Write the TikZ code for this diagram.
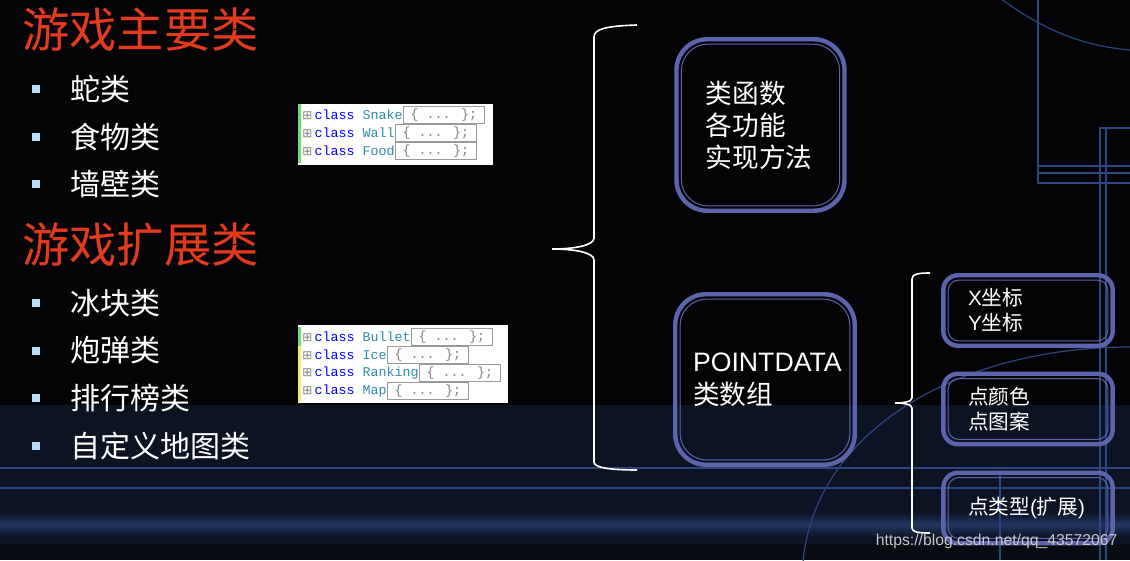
\documentclass[tikz,border=0pt]{standalone}
\usepackage{fontspec}
\setmainfont{Noto Sans CJK SC}
\newfontfamily\latinf{Liberation Sans}
\newfontfamily\codef{Liberation Mono}
\newfontfamily\symf{DejaVu Sans}
\usetikzlibrary{positioning,calc}
\definecolor{slidebg}{RGB}{4,4,7}
\definecolor{bandbg}{RGB}{12,19,34}
\definecolor{glowblue}{RGB}{32,54,98}
\definecolor{darkstrip}{RGB}{8,11,18}
\definecolor{lineblue}{RGB}{44,70,130}
\definecolor{frameblue}{RGB}{92,100,172}
\definecolor{headred}{RGB}{228,58,30}
\definecolor{dotblue}{RGB}{184,220,248}
\definecolor{kwblue}{RGB}{0,0,255}
\definecolor{typeteal}{RGB}{43,140,170}
\definecolor{foldgray}{RGB}{128,128,128}
\definecolor{barGreen}{RGB}{110,220,110}
\definecolor{barYellow}{RGB}{250,235,110}
\definecolor{markgray}{RGB}{200,200,200}
\tikzset{
  head/.style    ={text=headred, font=\fontsize{35.5}{40}\selectfont, anchor=west, inner sep=0pt},
  dot/.style     ={fill=dotblue, minimum size=6pt, inner sep=0pt},
  item/.style    ={text=white, font=\fontsize{22.5}{26}\selectfont, inner sep=0pt},
  deco/.style    ={draw=lineblue, line width=0.9pt},
  brace/.style   ={draw=white, line width=1.2pt},
  frame/.style   ={draw=frameblue, line width=3.3pt, text=white, align=left, inner ysep=0pt,
                   path picture={\draw[frameblue, line width=0.75pt, rounded corners=#1]
                     ($(path picture bounding box.south west)+(3.6pt,3.6pt)$) rectangle
                     ($(path picture bounding box.north east)+(-3.6pt,-3.6pt)$);}},
  bigbox/.style  ={frame=20pt, rounded corners=23pt, font=\fontsize{20}{24}\selectfont},
  smallbox/.style={frame=8pt, rounded corners=11pt, font=\fontsize{15.5}{18.75}\selectfont,
                   text width=90pt, inner xsep=18.5pt, minimum height=52.9pt},
  codetxt/.style ={anchor=west, inner sep=0pt, font=\codef\fontsize{10}{10}\selectfont},
  foldbox/.style ={draw=foldgray!80, line width=0.6pt, text=foldgray, inner sep=0pt,
                   font=\codef\fontsize{10}{10}\selectfont, minimum width=61pt, minimum height=13pt},
}
% one collapsed class line of the code view
\newcommand{\coderow}[3]{%
  \node[codetxt] (#1) at #2 {{\symf\fontsize{9}{9}\selectfont\textcolor{foldgray}{⊞}}\,\textcolor{kwblue}{class} \textcolor{typeteal}{#3}};
  \node[foldbox,right=0pt of #1] (#1fold) {\{ ... \};};}

\begin{document}
\begin{tikzpicture}[x=0.75pt,y=-0.75pt,node distance=29.25pt and 22.5pt]
\useasboundingbox (0,0) rectangle (1130,560);
% slide background
\fill[slidebg] (0,0) rectangle (1130,560);
\fill[bandbg] (0,405) rectangle (1130,560);
\shade[top color=bandbg, bottom color=bandbg, middle color=glowblue] (0,512) rectangle (1130,537);
\fill[darkstrip] (0,544) rectangle (1130,560);
\draw[deco, line width=1.4pt] (0,468) -- (1130,468);
\draw[deco, line width=1.4pt] (0,488) -- (1130,488);
\draw[deco] (1038,0) -- (1038,183) -- (1130,183);
\draw[deco] (1038,166) -- (1130,166);
\draw[deco] (1038,173) -- (1130,173);
\draw[deco] (1130,128) -- (1100,128) -- (1100,560);
\draw[deco] (1106,128) -- (1106,560);
\draw[deco] (1000,470) -- (1000,560);
\draw[deco] (1000,-2) .. controls (1030,20) and (1070,45) .. (1130,50);
\draw[deco] (803,562) .. controls (815,430) and (960,347) .. (1130,347);

% left column
\node[head] (mainhead) at (22,30) {游戏主要类};
\node[dot] (d1) at (36,89) {};
\node[dot,below=of d1] (d2) {};
\node[dot,below=of d2] (d3) {};
\node[item,right=of d1,anchor=west] (snake) {蛇类};
\node[item,right=of d2,anchor=west] (food) {食物类};
\node[item,right=of d3,anchor=west] (wall) {墙壁类};

\node[head] (exthead) at (22,245) {游戏扩展类};
\node[dot] (d4) at (36,303) {};
\node[dot,below=of d4] (d5) {};
\node[dot,below=of d5] (d6) {};
\node[dot,below=of d6] (d7) {};
\node[item,right=of d4,anchor=west] (ice) {冰块类};
\node[item,right=of d5,anchor=west] (bullet) {炮弹类};
\node[item,right=of d6,anchor=west] (rank) {排行榜类};
\node[item,right=of d7,anchor=west] (map) {自定义地图类};

% code views
\fill[white] (298,104) rectangle (493,165);
\fill[barGreen] (298,104) rectangle (301,163);
\coderow{csnake}{(302,115)}{Snake}
\coderow{cwall}{(302,133)}{Wall}
\coderow{cfood}{(302,151)}{Food}
\fill[white] (298,325) rectangle (508,403);
\fill[barGreen] (298,327) rectangle (301,346);
\fill[barYellow] (298,346) rectangle (301,402);
\coderow{cbullet}{(302,337)}{Bullet}
\coderow{cice}{(302,355)}{Ice}
\coderow{crank}{(302,373)}{Ranking}
\coderow{cmap}{(302,391)}{Map}

% braces
\draw[brace] (637,25) .. controls (606,26) and (594,29) .. (594,37) -- (594,238)
  .. controls (594,246) and (572,249) .. (552,249) .. controls (572,249) and (594,252) .. (594,260)
  -- (594,462) .. controls (594,467) and (606,470) .. (637,470);
\draw[brace] (930,273) .. controls (918,273) and (912,274) .. (912,279) -- (912,398)
  .. controls (912,402) and (902,403) .. (895,403) .. controls (902,403) and (912,404) .. (912,408)
  -- (912,528) .. controls (912,532) and (918,533) .. (930,533);

% boxes
\node[bigbox,text width=82pt,inner xsep=22pt,minimum height=128.6pt] (funcbox) at (760.5,125)
  {类函数\\各功能\\实现方法};
\node[bigbox,text width=108pt,inner xsep=13.3pt,minimum height=127.9pt,
  font=\fontsize{20}{24.75}\selectfont] (databox) at (765,379.5) {{\latinf POINTDATA}\\类数组};
\node[smallbox] (xybox) at (1028,310.5) {{\latinf X}坐标\\{\latinf Y}坐标};
\node[smallbox] (colorbox) at (1028,409) {点颜色\\点图案};
\node[smallbox] (typebox) at (1028,508) {点类型{\latinf (}扩展{\latinf )}};

\node[anchor=east,text=markgray,font=\latinf\fontsize{11.8}{14}\selectfont] (mark) at (1122,541)
  {https://blog.csdn.net/qq\_43572067};
\end{tikzpicture}
\end{document}
